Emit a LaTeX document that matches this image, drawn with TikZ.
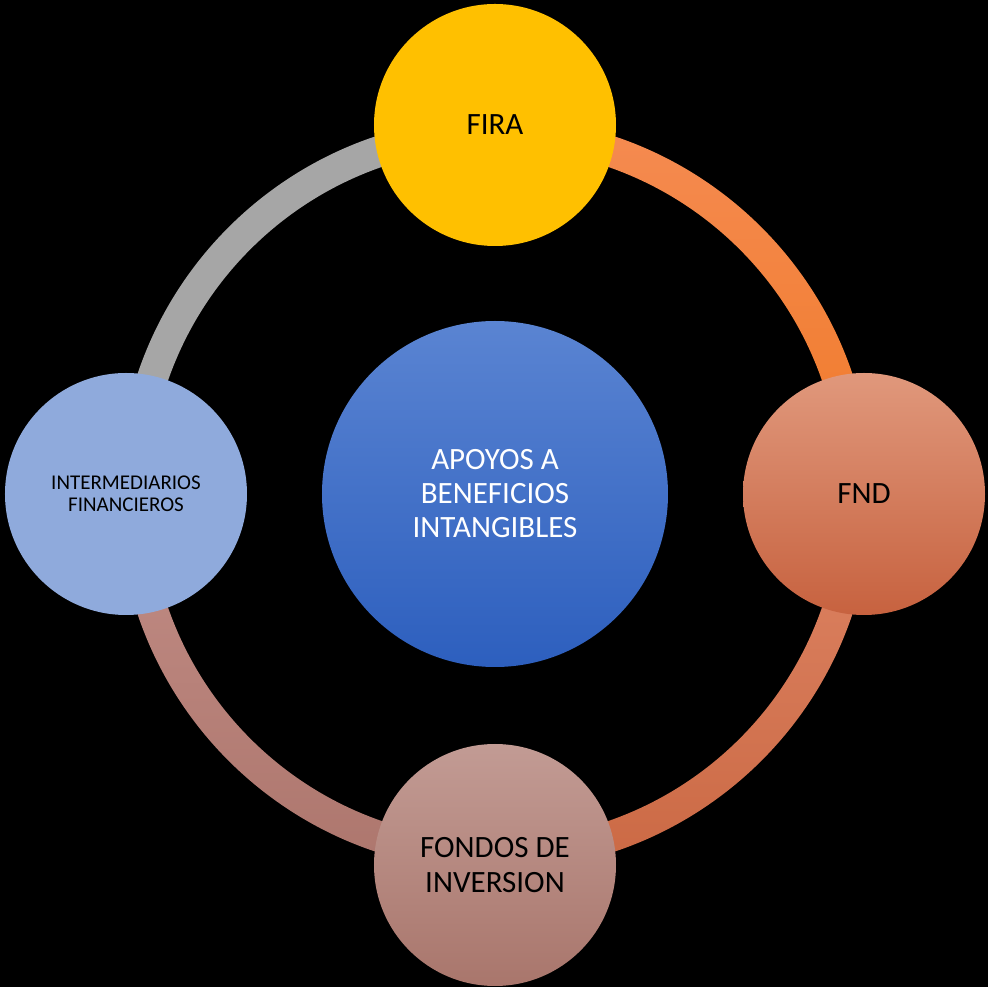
\documentclass[tikz,border=0pt]{standalone}
\usepackage{fontspec}
\setmainfont{Carlito}
\definecolor{firaY}{HTML}{FFC000}
\definecolor{interB}{HTML}{8FAADC}
\definecolor{cenTop}{HTML}{5A84D2}
\definecolor{cenBot}{HTML}{2D5FBE}
\definecolor{fndTop}{HTML}{E0987C}
\definecolor{fndBot}{HTML}{C7623F}
\definecolor{fonTop}{HTML}{C29B94}
\definecolor{fonBot}{HTML}{A9766C}
\definecolor{arcGray}{HTML}{A6A6A6}
\definecolor{arcOrTop}{HTML}{F58B52}
\definecolor{arcOrBot}{HTML}{F07A28}
\definecolor{arcBrTop}{HTML}{DE8565}
\definecolor{arcBrBot}{HTML}{CB6944}
\definecolor{arcRoTop}{HTML}{C28D86}
\definecolor{arcRoBot}{HTML}{AD766D}
\tikzset{
  sat/.style={circle, minimum size=242pt, inner sep=0pt, align=center, text=black},
  bigtext/.style={font=\fontsize{31}{34}\selectfont},
  smalltext/.style={font=\fontsize{21}{22}\selectfont},
}
\begin{document}
\begin{tikzpicture}[x=1pt,y=1pt]
\fill[black] (-495,-493) rectangle (493,494);
\useasboundingbox (-495,-493) rectangle (493,494);
\coordinate (c) at (0,0);
% ring segments
\fill[arcGray] ([shift={(c)}]180:377) arc[start angle=180,end angle=90,radius=377]
  -- ([shift={(c)}]90:346) arc[start angle=90,end angle=180,radius=346] -- cycle;
\shade[top color=arcOrTop, bottom color=arcOrBot] ([shift={(c)}]90:377) arc[start angle=90,end angle=0,radius=377]
  -- ([shift={(c)}]0:346) arc[start angle=0,end angle=90,radius=346] -- cycle;
\shade[top color=arcBrTop, bottom color=arcBrBot] ([shift={(c)}]0:377) arc[start angle=0,end angle=-90,radius=377]
  -- ([shift={(c)}]-90:346) arc[start angle=-90,end angle=0,radius=346] -- cycle;
\shade[top color=arcRoTop, bottom color=arcRoBot] ([shift={(c)}]-90:377) arc[start angle=-90,end angle=-180,radius=377]
  -- ([shift={(c)}]-180:346) arc[start angle=-180,end angle=-90,radius=346] -- cycle;
% nodes
\node[circle, minimum size=346pt, inner sep=0pt, align=center, text=white,
      top color=cenTop, bottom color=cenBot, bigtext] (center) at (c) {APOYOS A\\BENEFICIOS\\INTANGIBLES};
\node[sat, fill=firaY, bigtext] (fira) at (0,369) {FIRA};
\node[sat, top color=fndTop, bottom color=fndBot, bigtext] (fnd) at (369,0) {FND};
\node[sat, top color=fonTop, bottom color=fonBot, font=\fontsize{31}{35}\selectfont] (fondos) at (0,-371) {FONDOS DE\\INVERSION};
\node[sat, fill=interB, smalltext] (inter) at (-369,0) {INTERMEDIARIOS\\FINANCIEROS};
\end{tikzpicture}
\end{document}
